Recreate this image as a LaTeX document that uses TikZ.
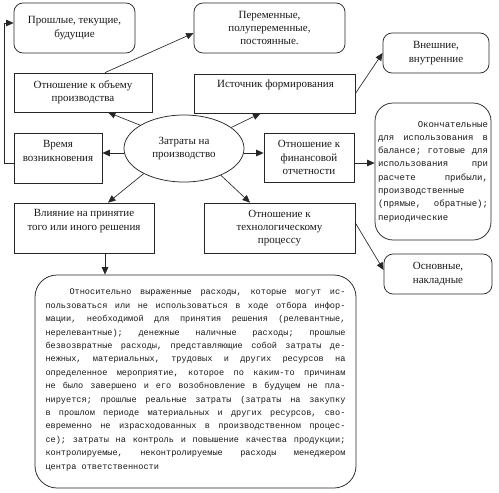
\documentclass[tikz,border=0pt]{standalone}
\usepackage{fontspec}
\setmainfont{Liberation Serif}
\newfontfamily\monof{Liberation Mono}
\usetikzlibrary{arrows.meta,shapes.geometric,calc}
\newcommand{\jline}[1]{\makebox[\linewidth][s]{#1}\\}
\newcommand{\monoA}{\monof\fontsize{9}{13.3}\selectfont\frenchspacing}
\newcommand{\monoB}{\monof\fontsize{8.6}{13.4}\selectfont\frenchspacing}
\newcommand{\stretchsp}{\spaceskip=0.6em plus 30pt\relax}
\begin{document}
\begin{tikzpicture}[x=1pt,y=-1pt,
  lbl/.style={font=\fontsize{11}{13.2}\selectfont, align=center, inner sep=0pt, text=black!90},
  box/.style={draw=black!85, line width=0.75pt, inner sep=0pt, lbl},
  rbox/.style={box, rounded corners=9pt},
  arr/.style={draw=black!85, line width=0.65pt, -{Triangle[length=7.5pt,width=6.5pt]}},
  mono/.style={inner sep=0pt, align=left, text=black!90}
]
\useasboundingbox (0,0) rectangle (499,493);
% boxes
\node[rbox, minimum width=121pt, minimum height=50pt] (past) at (74.5,28) {Прошлые, текущие,\\будущие};
\node[rbox, minimum width=151pt, minimum height=50pt] (var) at (269.5,28) {Переменные,\\полупеременные,\\постоянные.};
\node[box, minimum width=138pt, minimum height=39pt] (vol) at (83,92.5) {Отношение к объему\\производства};
\node[box, minimum width=161pt, minimum height=39pt] (src) at (274.5,93.5) {};
\node[lbl] (srct) at (275.5,85) {Источник формирования};
\node[rbox, minimum width=106pt, minimum height=40pt] (ext) at (436,53) {Внешние,\\внутренние};
\node[box, ellipse, minimum width=120pt, minimum height=67pt] (ell) at (184,148.5) {Затраты на\\производство};
\node[box, minimum width=88pt, minimum height=50pt] (time) at (58,158) {};
\node[lbl] (timet) at (58,151) {Время\\возникновения};
\node[box, minimum width=90pt, minimum height=49pt] (fin) at (309,157.5) {Отношение к\\финансовой\\отчетности};
\node[box, rounded corners=18pt, minimum width=116pt, minimum height=137pt] (fin2) at (433,171.5) {};
\node[mono, text width=110pt, font=\monoA] (fin2t) at (433,171.5) {\stretchsp
\makebox[\linewidth][r]{Окончательные}\\
\jline{для использования в}
\jline{балансе; готовые для}
\jline{использования при}
\jline{расчете прибыли,}
производственные\\
\jline{(прямые, обратные);}
периодические};
\node[box, minimum width=140pt, minimum height=50pt] (dec) at (84,228) {};
\node[lbl] (dect) at (84,221) {Влияние на принятие\\того или иного решения};
\node[box, minimum width=151pt, minimum height=50pt] (tech) at (279.5,228) {Отношение к\\технологическому\\процессу};
\node[rbox, minimum width=108pt, minimum height=40pt] (main) at (438,274) {Основные,\\накладные};
\node[box, rounded corners=22pt, minimum width=321pt, minimum height=213pt] (big) at (195.5,381.5) {};
\node[mono, text width=300pt, font=\monoB] (bigt) at (195.5,380) {\stretchsp
\jline{\hspace*{24pt}Относительно выраженные расходы, которые могут ис-}
\jline{пользоваться или не использоваться в ходе отбора инфор-}
\jline{мации, необходимой для принятия решения (релевантные,}
\jline{нерелевантные); денежные наличные расходы; прошлые}
\jline{безвозвратные расходы, представляющие собой затраты де-}
\jline{нежных, материальных, трудовых и других ресурсов на}
\jline{определенное мероприятие, которое по каким-то причинам}
\jline{не было завершено и его возобновление в будущем не пла-}
\jline{нируется; прошлые реальные затраты (затраты на закупку}
\jline{в прошлом периоде материальных и других ресурсов, сво-}
\jline{евременно не израсходованных в производственном процес-}
\jline{се); затраты на контроль и повышение качества продукции;}
\jline{контролируемые, неконтролируемые расходы менеджером}
центра ответственности};
% connectors
\coordinate (c1) at (4,163);
\coordinate (c2) at (4,23);
\draw[arr] (time.west |- c1) -- (c1) -- (c2) -- (past.west |- c2);
\draw[arr] ([xshift=22pt]vol.north) -- ([yshift=-5pt]var.west);
\draw[arr] (src.east) -- (ext.west);
\draw[arr] (ell.152) -- ([xshift=25pt]vol.south);
\draw[arr] (ell.24) -- ([xshift=-14pt]src.south);
\coordinate (el) at ([yshift=-4.5pt]ell.west);
\draw[arr] (el) -- (el -| time.east);
\coordinate (er) at ([yshift=-4.5pt]ell.east);
\draw[arr] (er) -- (er -| fin.west);
\draw[arr] (ell.212) -- ([xshift=24pt]dec.north);
\draw[arr] (ell.324) -- ([xshift=-29.5pt]tech.north);
\coordinate (fr) at ([yshift=-5.5pt]fin.east);
\draw[arr] (fr) -- (fr -| fin2.west);
\draw[arr] ([yshift=5pt]tech.east) -- ([yshift=4pt]main.west);
\coordinate (dd) at ([xshift=21pt]dec.south);
\draw[arr] (dd) -- (dd |- big.north);
\end{tikzpicture}
\end{document}
